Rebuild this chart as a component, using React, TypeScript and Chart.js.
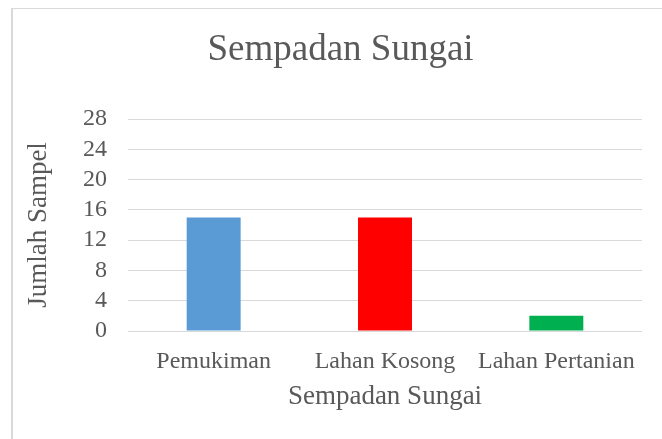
import React, { useEffect, useRef } from "react";
import { Chart, registerables } from "chart.js";

Chart.register(...registerables);

const categories = ["Pemukiman", "Lahan Kosong", "Lahan Pertanian"];
const values = [15, 15, 2];
const barColors = ["#5B9BD5", "#FF0000", "#00B050"];
const chartTitle = "Sempadan Sungai";
const xTitle = "Sempadan Sungai";
const yTitle = "Jumlah Sampel";

const FONT = "'Liberation Serif', 'Times New Roman', serif";
const TEXT = "#595959";
const GRID = "#d9d9d9";

export default function App() {
  const ref = useRef<HTMLCanvasElement | null>(null);

  useEffect(() => {
    if (!ref.current) return;
    const chart = new Chart(ref.current, {
      type: "bar",
      data: {
        labels: categories,
        datasets: [
          {
            data: values,
            backgroundColor: barColors,
            borderWidth: 0,
            barPercentage: 0.315,
            categoryPercentage: 1,
          },
        ],
      },
      options: {
        responsive: false,
        animation: false,
        devicePixelRatio: 1,
        layout: { padding: { left: 39, right: 20, top: 10, bottom: 26 } },
        plugins: {
          legend: { display: false },
          tooltip: { enabled: false },
          title: {
            display: true,
            text: chartTitle,
            color: TEXT,
            font: { family: FONT, size: 37, weight: "normal" },
            padding: { top: 18, bottom: 46.6 },
          },
        },
        scales: {
          x: {
            grid: { display: false },
            border: { display: false },
            ticks: {
              color: TEXT,
              font: { family: FONT, size: 24 },
              padding: 8,
              maxRotation: 0,
              autoSkip: false,
            },
            title: {
              display: true,
              text: xTitle,
              color: TEXT,
              font: { family: FONT, size: 27 },
              padding: { top: 0, bottom: 0 },
            },
            afterFit: (s: any) => {
              s.height = 82;
            },
          },
          y: {
            min: 0,
            max: 28,
            grid: { color: GRID, lineWidth: 1, drawTicks: false },
            border: { display: false },
            ticks: {
              stepSize: 4,
              autoSkip: false,
              color: TEXT,
              font: { family: FONT, size: 24 },
              padding: 21,
            },
            title: {
              display: true,
              text: yTitle,
              color: TEXT,
              font: { family: FONT, size: 27 },
              padding: { top: -16, bottom: 0 },
            },
            afterFit: (s: any) => {
              s.width = 89;
            },
          },
        },
      },
    });
    return () => chart.destroy();
  }, []);

  return (
    <div
      style={{
        position: "fixed",
        left: 0,
        top: 0,
        width: 662,
        height: 439,
        overflow: "hidden",
        background: "#fff",
      }}
    >
      <div
        style={{
          position: "absolute",
          left: 11,
          top: 8,
          width: 700,
          height: 480,
          border: "1px solid #d9d9d9",
          borderLeftWidth: 2,
          boxSizing: "border-box",
        }}
      />
      <canvas
        ref={ref}
        width={662}
        height={439}
        style={{ position: "absolute", left: 0, top: 0 }}
      />
    </div>
  );
}
